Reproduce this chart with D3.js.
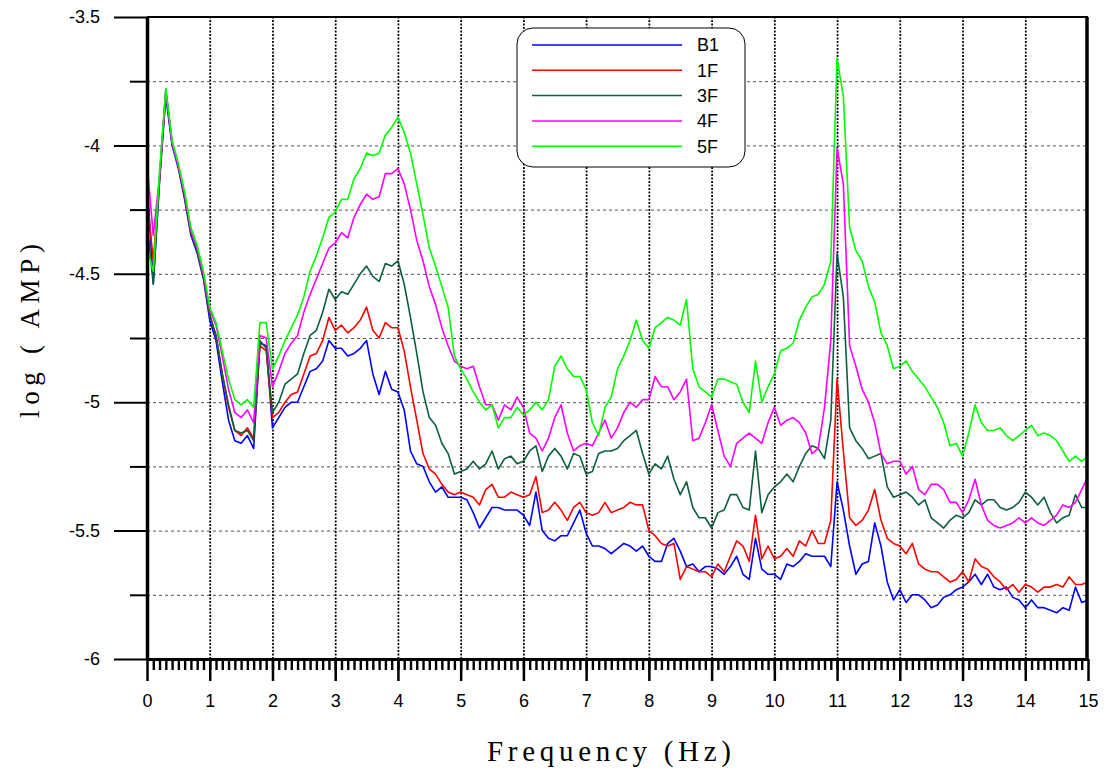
<!DOCTYPE html>
<html>
<head>
<meta charset="utf-8">
<script src="https://cdn.jsdelivr.net/npm/d3@7"></script>
<style>
  body { margin: 0; background: #fff; }
  svg { display: block; }
</style>
</head>
<body>
<div id="chart"></div>
<script>
// frequency grid (Hz)
const freq = [
  0, 0.1, 0.2, 0.3, 0.4, 0.5, 0.6, 0.7, 0.8, 0.9,
  1, 1.1, 1.2, 1.3, 1.4, 1.5, 1.6, 1.7, 1.8, 1.9,
  2, 2.1, 2.2, 2.3, 2.4, 2.5, 2.6, 2.7, 2.8, 2.9,
  3, 3.1, 3.2, 3.3, 3.4, 3.5, 3.6, 3.7, 3.8, 3.9,
  4, 4.1, 4.2, 4.3, 4.4, 4.5, 4.6, 4.7, 4.8, 4.9,
  5, 5.1, 5.2, 5.3, 5.4, 5.5, 5.6, 5.7, 5.8, 5.9,
  6, 6.1, 6.2, 6.3, 6.4, 6.5, 6.6, 6.7, 6.8, 6.9,
  7, 7.1, 7.2, 7.3, 7.4, 7.5, 7.6, 7.7, 7.8, 7.9,
  8, 8.1, 8.2, 8.3, 8.4, 8.5, 8.6, 8.7, 8.8, 8.9,
  9, 9.1, 9.2, 9.3, 9.4, 9.5, 9.6, 9.7, 9.8, 9.9,
  10, 10.1, 10.2, 10.3, 10.4, 10.5, 10.6, 10.7, 10.8, 10.9,
  11, 11.1, 11.2, 11.3, 11.4, 11.5, 11.6, 11.7, 11.8, 11.9,
  12, 12.1, 12.2, 12.3, 12.4, 12.5, 12.6, 12.7, 12.8, 12.9,
  13, 13.1, 13.2, 13.3, 13.4, 13.5, 13.6, 13.7, 13.8, 13.9,
  14, 14.1, 14.2, 14.3, 14.4, 14.5, 14.6, 14.7, 14.8, 14.9,
  15
];

const b1 = [
  -4.13, -4.54, -4.14, -3.81, -4.00, -4.09, -4.21, -4.35, -4.42, -4.52,
  -4.68, -4.76, -4.92, -5.07, -5.15, -5.16, -5.13, -5.18, -4.77, -4.78,
  -5.10, -5.06, -5.02, -5.00, -5.00, -4.94, -4.88, -4.87, -4.84, -4.76,
  -4.79, -4.79, -4.82, -4.81, -4.79, -4.76, -4.89, -4.97, -4.88, -4.95,
  -4.96, -5.03, -5.19, -5.24, -5.25, -5.31, -5.35, -5.33, -5.37, -5.37,
  -5.37, -5.38, -5.43, -5.49, -5.45, -5.41, -5.41, -5.42, -5.42, -5.42,
  -5.44, -5.48, -5.35, -5.50, -5.53, -5.54, -5.52, -5.52, -5.47, -5.42,
  -5.51, -5.56, -5.56, -5.57, -5.59, -5.57, -5.55, -5.56, -5.58, -5.56,
  -5.60, -5.62, -5.62, -5.55, -5.53, -5.58, -5.64, -5.63, -5.66, -5.64,
  -5.64, -5.65, -5.67, -5.64, -5.60, -5.67, -5.69, -5.53, -5.65, -5.67,
  -5.67, -5.69, -5.63, -5.64, -5.62, -5.59, -5.60, -5.60, -5.60, -5.64,
  -5.31, -5.42, -5.56, -5.67, -5.63, -5.62, -5.47, -5.56, -5.70, -5.77,
  -5.73, -5.78, -5.75, -5.75, -5.77, -5.80, -5.79, -5.76, -5.75, -5.73,
  -5.72, -5.70, -5.67, -5.71, -5.67, -5.72, -5.73, -5.72, -5.76, -5.77,
  -5.80, -5.77, -5.80, -5.80, -5.81, -5.82, -5.80, -5.81, -5.72, -5.78,
  -5.77
];

const f1 = [
  -4.20, -4.45, -4.13, -3.79, -3.99, -4.08, -4.20, -4.34, -4.41, -4.51,
  -4.66, -4.74, -4.89, -5.02, -5.11, -5.13, -5.10, -5.14, -4.78, -4.80,
  -5.06, -5.04, -5.00, -4.97, -4.96, -4.89, -4.82, -4.81, -4.76, -4.67,
  -4.72, -4.70, -4.73, -4.71, -4.68, -4.63, -4.72, -4.75, -4.69, -4.71,
  -4.71, -4.80, -4.94, -5.07, -5.20, -5.26, -5.28, -5.32, -5.35, -5.36,
  -5.35, -5.36, -5.37, -5.40, -5.34, -5.32, -5.37, -5.37, -5.35, -5.36,
  -5.37, -5.36, -5.29, -5.43, -5.42, -5.39, -5.42, -5.46, -5.41, -5.39,
  -5.43, -5.44, -5.43, -5.39, -5.43, -5.42, -5.41, -5.39, -5.40, -5.40,
  -5.50, -5.52, -5.55, -5.56, -5.55, -5.69, -5.64, -5.65, -5.66, -5.66,
  -5.68, -5.63, -5.66, -5.60, -5.54, -5.56, -5.62, -5.44, -5.61, -5.56,
  -5.61, -5.60, -5.57, -5.60, -5.54, -5.56, -5.50, -5.55, -5.55, -5.46,
  -4.91, -5.19, -5.45, -5.48, -5.46, -5.42, -5.34, -5.46, -5.53, -5.55,
  -5.56, -5.59, -5.55, -5.63, -5.65, -5.66, -5.66, -5.68, -5.70, -5.69,
  -5.66, -5.70, -5.61, -5.64, -5.65, -5.68, -5.70, -5.73, -5.71, -5.74,
  -5.71, -5.72, -5.74, -5.72, -5.72, -5.71, -5.72, -5.68, -5.71, -5.71,
  -5.70
];

const f3 = [
  -4.30, -4.54, -4.13, -3.79, -3.99, -4.08, -4.20, -4.34, -4.41, -4.51,
  -4.66, -4.74, -4.89, -5.01, -5.11, -5.12, -5.11, -5.15, -4.76, -4.79,
  -5.04, -5.00, -4.93, -4.91, -4.89, -4.81, -4.74, -4.72, -4.65, -4.56,
  -4.60, -4.57, -4.58, -4.54, -4.50, -4.47, -4.51, -4.53, -4.46, -4.47,
  -4.45, -4.54, -4.67, -4.81, -4.96, -5.06, -5.09, -5.16, -5.20, -5.28,
  -5.27, -5.26, -5.23, -5.26, -5.24, -5.19, -5.26, -5.22, -5.21, -5.24,
  -5.23, -5.19, -5.17, -5.27, -5.21, -5.18, -5.21, -5.26, -5.20, -5.21,
  -5.28, -5.27, -5.20, -5.19, -5.19, -5.18, -5.15, -5.13, -5.11, -5.20,
  -5.28, -5.24, -5.26, -5.21, -5.30, -5.36, -5.31, -5.41, -5.45, -5.45,
  -5.49, -5.43, -5.42, -5.36, -5.36, -5.41, -5.42, -5.19, -5.43, -5.36,
  -5.33, -5.31, -5.28, -5.31, -5.25, -5.20, -5.17, -5.18, -5.22, -5.07,
  -4.42, -4.59, -5.10, -5.15, -5.18, -5.22, -5.21, -5.20, -5.33, -5.37,
  -5.36, -5.35, -5.37, -5.40, -5.38, -5.45, -5.47, -5.49, -5.46, -5.44,
  -5.45, -5.43, -5.38, -5.40, -5.38, -5.38, -5.41, -5.42, -5.41, -5.39,
  -5.35, -5.37, -5.40, -5.37, -5.43, -5.47, -5.45, -5.44, -5.36, -5.41,
  -5.41
];

const f4 = [
  -4.07, -4.35, -4.12, -3.78, -3.99, -4.08, -4.19, -4.33, -4.40, -4.50,
  -4.64, -4.70, -4.82, -4.95, -5.04, -5.06, -5.03, -5.08, -4.74, -4.75,
  -4.94, -4.88, -4.81, -4.77, -4.74, -4.65, -4.58, -4.52, -4.46, -4.40,
  -4.38, -4.34, -4.36, -4.28, -4.23, -4.19, -4.21, -4.20, -4.11, -4.11,
  -4.09, -4.15, -4.25, -4.37, -4.45, -4.55, -4.62, -4.71, -4.78, -4.84,
  -4.86, -4.87, -4.86, -4.94, -5.01, -5.01, -5.07, -5.01, -5.03, -4.98,
  -5.02, -5.12, -5.14, -5.19, -5.14, -5.06, -5.01, -5.12, -5.19, -5.17,
  -5.16, -5.17, -5.12, -5.07, -5.14, -5.10, -5.04, -5.00, -5.02, -4.99,
  -4.99, -4.90, -4.94, -4.94, -4.99, -4.96, -4.91, -5.15, -5.14, -5.08,
  -5.01, -5.11, -5.21, -5.25, -5.16, -5.14, -5.12, -5.14, -5.16, -5.08,
  -5.02, -5.09, -5.07, -5.06, -5.08, -5.12, -5.20, -5.18, -5.02, -4.76,
  -4.01, -4.15, -4.78, -4.86, -4.95, -5.00, -5.08, -5.20, -5.24, -5.23,
  -5.23, -5.28, -5.25, -5.34, -5.36, -5.32, -5.32, -5.34, -5.39, -5.39,
  -5.43, -5.38, -5.30, -5.40, -5.46, -5.48, -5.49, -5.48, -5.47, -5.45,
  -5.47, -5.45, -5.47, -5.48, -5.46, -5.44, -5.40, -5.41, -5.39, -5.34,
  -5.29
];

const f5 = [
  -4.40, -4.49, -4.10, -3.78, -3.98, -4.07, -4.18, -4.32, -4.39, -4.49,
  -4.63, -4.69, -4.80, -4.91, -4.99, -5.01, -4.99, -5.02, -4.69, -4.69,
  -4.87, -4.82, -4.76, -4.71, -4.66, -4.59, -4.49, -4.43, -4.36, -4.28,
  -4.26, -4.21, -4.21, -4.13, -4.09, -4.03, -4.04, -4.03, -3.96, -3.93,
  -3.89, -3.95, -4.03, -4.15, -4.27, -4.40, -4.47, -4.55, -4.63, -4.82,
  -4.87, -4.91, -4.96, -5.00, -5.03, -5.01, -5.10, -5.06, -5.06, -5.02,
  -5.05, -5.03, -5.00, -5.03, -4.99, -4.86, -4.82, -4.87, -4.90, -4.90,
  -4.95, -5.08, -5.13, -5.02, -4.98, -4.87, -4.82, -4.76, -4.68, -4.76,
  -4.79, -4.71, -4.69, -4.67, -4.68, -4.70, -4.60, -4.87, -4.94, -4.96,
  -4.98, -4.91, -4.91, -4.92, -4.93, -5.00, -5.04, -4.84, -5.00, -4.94,
  -4.89, -4.80, -4.79, -4.77, -4.68, -4.63, -4.59, -4.58, -4.54, -4.45,
  -3.66, -3.81, -4.32, -4.41, -4.45, -4.55, -4.61, -4.73, -4.78, -4.87,
  -4.86, -4.84, -4.88, -4.91, -4.94, -4.98, -5.02, -5.08, -5.17, -5.16,
  -5.21, -5.12, -5.01, -5.08, -5.11, -5.11, -5.10, -5.13, -5.15, -5.13,
  -5.11, -5.09, -5.13, -5.12, -5.13, -5.15, -5.19, -5.23, -5.21, -5.23,
  -5.21
];

const seriesNames = ['B1', '1F', '3F', '4F', '5F'];
const seriesColors = ['#0000ff', '#ff0000', '#0c5f3a', '#ff00ff', '#00ff00'];
const seriesValues = [b1, f1, f3, f4, f5];

const yTicks = [-3.5, -4, -4.5, -5, -5.5, -6];
const yMinor = [-3.75, -4.25, -4.75, -5.25, -5.75];
const xTicks = [0, 1, 2, 3, 4, 5, 6, 7, 8, 9, 10, 11, 12, 13, 14, 15];

const W = 1110, H = 771;
const plot = {left: 147, right: 1088, top: 17, bottom: 659};
const sans = 'Arial, "Liberation Sans", sans-serif';
const serif = '"Liberation Serif", "Times New Roman", serif';

const svg = d3.select('#chart').append('svg')
  .attr('width', W)
  .attr('height', H)
  .style('font-family', sans);

const x = d3.scaleLinear().domain([0, 15]).range([plot.left, plot.right]);
const y = d3.scaleLinear().domain([-6, -3.5]).range([plot.bottom, plot.top]);

/**
 * grid
 */
const hGrid = svg.append('g')
  .attr('transform', `translate(${plot.left},0)`)
  .call(d3.axisLeft(y).tickValues(yMinor.concat([-4, -4.5, -5, -5.5]))
    .tickSize(-(plot.right - plot.left)).tickFormat(''));
hGrid.select('.domain').remove();
hGrid.selectAll('line')
  .attr('stroke', '#555')
  .attr('stroke-width', 1)
  .attr('stroke-dasharray', '3,3');

const vGrid = svg.append('g')
  .attr('transform', `translate(0,${plot.bottom})`)
  .call(d3.axisBottom(x).tickValues(xTicks.slice(1, -1))
    .tickSize(-(plot.bottom - plot.top)).tickFormat(''));
vGrid.select('.domain').remove();
vGrid.selectAll('line')
  .attr('stroke', '#000')
  .attr('stroke-width', 1.7)
  .attr('stroke-dasharray', '2,1.5');

/**
 * series
 */
const line = d3.line()
  .x((d, i) => x(freq[i]))
  .y(d => y(d));

svg.append('g')
  .selectAll('path')
  .data(seriesValues)
  .enter()
  .append('path')
  .attr('d', d => line(d))
  .attr('fill', 'none')
  .attr('stroke', (d, i) => seriesColors[i])
  .attr('stroke-width', 1.6)
  .attr('stroke-linejoin', 'round');

/**
 * frame
 */
svg.append('line')
  .attr('x1', plot.left).attr('x2', plot.right)
  .attr('y1', plot.top).attr('y2', plot.top)
  .attr('stroke', '#000').attr('stroke-width', 2);
svg.append('line')
  .attr('x1', plot.right - 1).attr('x2', plot.right - 1)
  .attr('y1', plot.top).attr('y2', plot.bottom)
  .attr('stroke', '#000').attr('stroke-width', 3.5);

/**
 * axes
 */
const yAxis = svg.append('g')
  .attr('transform', `translate(${plot.left},0)`)
  .call(d3.axisLeft(y).tickValues(yTicks).tickSize(33).tickSizeOuter(0)
    .tickPadding(14).tickFormat(d => String(d)));
yAxis.select('.domain').attr('stroke-width', 3.5);
yAxis.selectAll('.tick line').attr('stroke-width', 2);
yAxis.selectAll('text').attr('font-size', 18).attr('font-family', sans);

const yAxisMinor = svg.append('g')
  .attr('transform', `translate(${plot.left},0)`)
  .call(d3.axisLeft(y).tickValues(yMinor).tickSize(17).tickFormat(''));
yAxisMinor.select('.domain').remove();
yAxisMinor.selectAll('line').attr('stroke-width', 2);

const xAxisMinor = svg.append('g')
  .attr('transform', `translate(0,${plot.bottom})`)
  .call(d3.axisBottom(x).tickValues(d3.range(1, 150).map(i => i / 10)).tickSize(11).tickFormat(''));
xAxisMinor.select('.domain').remove();
xAxisMinor.selectAll('line').attr('stroke-width', 2.4);

const xAxis = svg.append('g')
  .attr('transform', `translate(0,${plot.bottom})`)
  .call(d3.axisBottom(x).tickValues(xTicks).tickSize(22).tickSizeOuter(0)
    .tickPadding(13).tickFormat(d => String(d)));
xAxis.select('.domain').attr('stroke-width', 3);
xAxis.selectAll('.tick line').attr('stroke-width', 2.5);
xAxis.selectAll('text').attr('font-size', 18).attr('font-family', sans);

/**
 * titles
 */
svg.append('text')
  .attr('x', 609)
  .attr('y', 761)
  .attr('text-anchor', 'middle')
  .attr('font-family', serif)
  .attr('font-size', 29)
  .attr('textLength', 244)
  .attr('lengthAdjust', 'spacing')
  .text('Frequency (Hz)');

svg.append('text')
  .attr('transform', 'translate(39,331) rotate(-90)')
  .attr('text-anchor', 'middle')
  .attr('font-family', serif)
  .attr('font-size', 27)
  .attr('textLength', 174)
  .attr('lengthAdjust', 'spacing')
  .text('log ( AMP)');

/**
 * legend
 */
const legend = svg.append('g').attr('transform', 'translate(517,28)');
legend.append('rect')
  .attr('width', 228).attr('height', 139)
  .attr('rx', 16).attr('ry', 16)
  .attr('fill', '#fff')
  .attr('stroke', '#000').attr('stroke-width', 1);

const items = legend.selectAll('g.item')
  .data(seriesNames)
  .enter()
  .append('g')
  .attr('transform', (d, i) => `translate(0,${17 + i * 25.3})`);
items.append('line')
  .attr('x1', 15).attr('x2', 165)
  .attr('stroke', (d, i) => seriesColors[i])
  .attr('stroke-width', 1.5);
items.append('text')
  .attr('x', 180).attr('dy', '0.36em')
  .attr('font-size', 18)
  .text(d => d);
</script>
</body>
</html>
